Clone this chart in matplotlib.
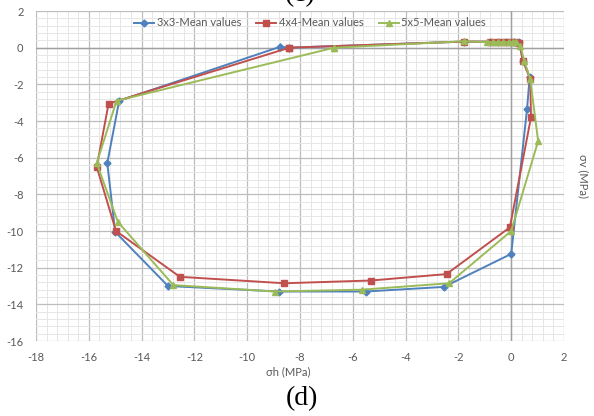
import matplotlib
matplotlib.use("Agg")
import matplotlib.pyplot as plt
from matplotlib.ticker import MultipleLocator

# ---- data ----
x_3x3 = [-8.75, -14.85, -15.3, -15.0, -13.0, -8.8, -5.5, -2.55, 0.0, 0.6, 0.7, 0.45, 0.3, 0.1, -0.2, -0.5, -0.8, -1.8, -8.4, -8.75]
y_3x3 = [0.05, -2.9, -6.3, -10.05, -13.0, -13.3, -13.3, -13.05, -11.25, -3.35, -1.6, -0.7, 0.3, 0.32, 0.32, 0.32, 0.32, 0.33, 0.0, 0.05]

x_4x4 = [-8.4, -15.25, -15.7, -14.97, -12.55, -8.6, -5.3, -2.45, -0.05, 0.75, 0.72, 0.45, 0.3, 0.15, 0.0, -0.2, -0.4, -0.6, -0.8, -1.8, -8.4]
y_4x4 = [0.0, -3.05, -6.5, -10.0, -12.5, -12.85, -12.7, -12.35, -9.8, -3.8, -1.7, -0.75, 0.25, 0.3, 0.3, 0.3, 0.3, 0.3, 0.33, 0.33, 0.0]

x_5x5 = [-6.7, -14.95, -15.7, -14.9, -12.8, -8.95, -5.65, -2.35, 0.0, 1.02, 0.72, 0.5, 0.35, 0.2, 0.05, -0.1, -0.3, -0.5, -0.7, -0.9, -1.8, -6.7]
y_5x5 = [0.0, -2.9, -6.3, -9.5, -12.95, -13.3, -13.2, -12.85, -10.0, -5.1, -1.7, -0.75, 0.1, 0.3, 0.3, 0.3, 0.3, 0.3, 0.3, 0.3, 0.35, 0.0]

labels = ["3x3-Mean values", "4x4-Mean values", "5x5-Mean values"]
x_label = "σh (MPa)"
y_label = "σv (MPa)"

plt.rcParams['font.family'] = ['Lato', 'DejaVu Sans']

fig = plt.figure(figsize=(5.94, 4.16), dpi=100)
ax = fig.add_axes([36/594, 1-341/416, (564-36)/594, (341-11)/416])

ax.set_xlim(-18, 2)
ax.set_ylim(-16, 2)
ax.xaxis.set_major_locator(MultipleLocator(2))
ax.yaxis.set_major_locator(MultipleLocator(2))
ax.xaxis.set_minor_locator(MultipleLocator(0.4))
ax.yaxis.set_minor_locator(MultipleLocator(0.4))
ax.grid(which='major', color='#bdbdbd', linewidth=0.9, zorder=0)
ax.grid(which='minor', color='#e6e6e6', linewidth=0.7, zorder=0)
ax.set_axisbelow(True)
for s in ax.spines.values():
    s.set_visible(False)
ax.axhline(0, color='#a0a0a0', linewidth=1.0, zorder=1)
ax.axvline(0, color='#a0a0a0', linewidth=1.0, zorder=1)

ax.tick_params(which='both', length=0)
ax.tick_params(axis='y', pad=9, labelsize=8, labelcolor='#595959')
ax.tick_params(axis='x', pad=8, labelsize=8, labelcolor='#595959')
ax.set_xticklabels([f"{int(v)}" for v in ax.get_xticks()])
ax.set_yticklabels([f"{int(v)}" for v in ax.get_yticks()])

lw = 1.4
h1, = ax.plot(x_3x3, y_3x3, color='#4f81bd', lw=lw, marker='D', ms=3.5, zorder=3)
h2, = ax.plot(x_4x4, y_4x4, color='#c0504d', lw=lw, marker='s', ms=4.5, zorder=4)
h3, = ax.plot(x_5x5, y_5x5, color='#9bbb59', lw=lw, marker='^', ms=4.5, zorder=5)

fig.legend([h1, h2, h3], labels, loc='center', ncol=3, frameon=False,
           bbox_to_anchor=(310/594, 1-23/416), bbox_transform=fig.transFigure,
           fontsize=8, handlelength=1.8, handletextpad=0.2, columnspacing=1.4,
           labelcolor='#595959')

fig.text(288/594, 1-372/416, x_label, ha='center', va='center', fontsize=8, color='#595959')
fig.text(583/594, 1-176/416, y_label, ha='center', va='center', fontsize=8, color='#595959', rotation=270)

fig.text(302/594, 1-405/416, "(d)", ha='center', va='baseline', fontsize=20, family='Liberation Serif', color='black')
fig.text(300/594, 1-1/416, "(c)", ha='center', va='baseline', fontsize=20, family='Liberation Serif', color='black')

fig.savefig("out.png", dpi=100)
